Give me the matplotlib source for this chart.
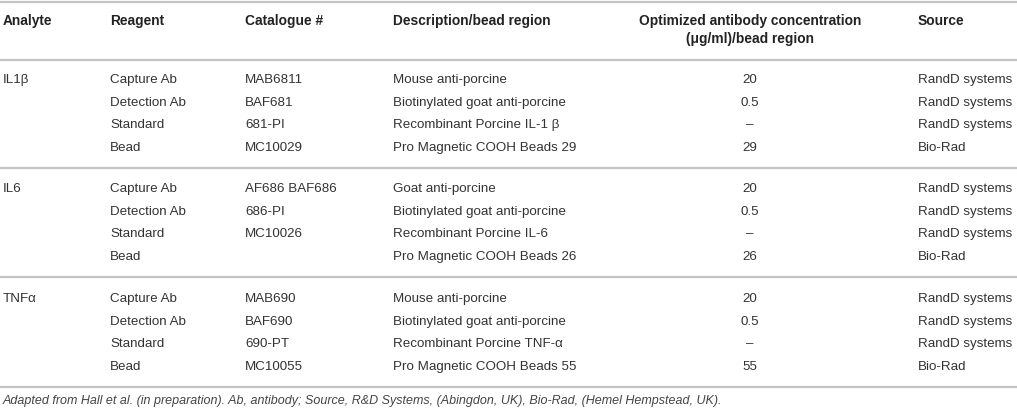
import matplotlib.pyplot as plt

plt.rcParams['font.family'] = ['Liberation Sans', 'DejaVu Sans']

headers = ["Analyte", "Reagent", "Catalogue #", "Description/bead region",
           "Optimized antibody concentration\n(\u03bcg/ml)/bead region", "Source"]
analytes = ["IL1\u03b2", "IL6", "TNF\u03b1"]
reagents = ["Capture Ab", "Detection Ab", "Standard", "Bead"]
catalogue = [["MAB6811", "BAF681", "681-PI", "MC10029"],
             ["AF686 BAF686", "686-PI", "MC10026", ""],
             ["MAB690", "BAF690", "690-PT", "MC10055"]]
descriptions = [["Mouse anti-porcine", "Biotinylated goat anti-porcine",
                 "Recombinant Porcine IL-1 \u03b2", "Pro Magnetic COOH Beads 29"],
                ["Goat anti-porcine", "Biotinylated goat anti-porcine",
                 "Recombinant Porcine IL-6", "Pro Magnetic COOH Beads 26"],
                ["Mouse anti-porcine", "Biotinylated goat anti-porcine",
                 "Recombinant Porcine TNF-\u03b1", "Pro Magnetic COOH Beads 55"]]
concentrations = [["20", "0.5", "\u2013", "29"],
                  ["20", "0.5", "\u2013", "26"],
                  ["20", "0.5", "\u2013", "55"]]
sources = [["RandD systems", "RandD systems", "RandD systems", "Bio-Rad"]] * 3
footnote = ("Adapted from Hall et al. (in preparation). Ab, antibody; Source, R&D Systems, "
            "(Abingdon, UK), Bio-Rad, (Hemel Hempstead, UK).")

W, H = 1017, 411
fig = plt.figure(figsize=(W / 100, H / 100), dpi=100)
ax = fig.add_axes([0, 0, 1, 1])
ax.set_xlim(0, W)
ax.set_ylim(H, 0)
ax.axis('off')

col_x = [3, 110, 245, 393, 750, 918]
col_ha = ['left', 'left', 'left', 'left', 'center', 'left']
txt = '#333333'
line_c = '#c4c4c4'
fs = 9.6

# header
for x, ha, h in zip(col_x, col_ha, headers):
    ax.text(x, 21 if '\n' not in h else 30, h, ha=ha, va='center', fontsize=9.9,
            fontweight='bold', color='#222222', linespacing=1.4)

ax.axhline(2.5, color=line_c, lw=1.6)
ax.axhline(60, color=line_c, lw=1.6)

row_h = 22.5
group_top = [80, 189, 299]
for g, y0 in enumerate(group_top):
    ax.text(col_x[0], y0, analytes[g], ha='left', va='center', fontsize=fs, color=txt)
    for r in range(4):
        y = y0 + r * row_h
        cells = [reagents[r], catalogue[g][r], descriptions[g][r],
                 concentrations[g][r], sources[g][r]]
        for x, ha, c in zip(col_x[1:], col_ha[1:], cells):
            ax.text(x, y, c, ha=ha, va='center', fontsize=fs, color=txt)
    ax.axhline(y0 + 3 * row_h + 20.5, color=line_c, lw=1.6)

ax.text(3, 401, footnote, ha='left', va='center', fontsize=9.0,
        style='italic', color='#444444')

fig.savefig('out.png', dpi=100)
